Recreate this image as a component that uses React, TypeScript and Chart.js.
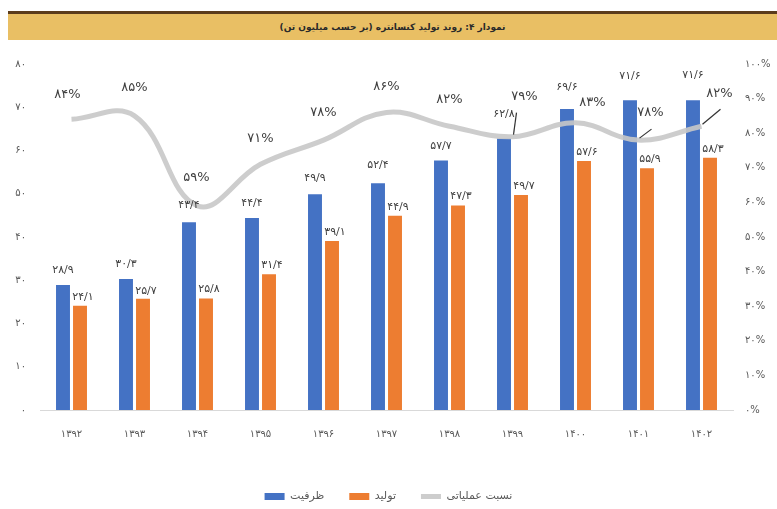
import React, { useEffect, useRef } from "react";
import { Chart, registerables } from "chart.js";

Chart.register(...registerables);

// ---- data ----
const years = ["۱۳۹۲", "۱۳۹۳", "۱۳۹۴", "۱۳۹۵", "۱۳۹۶", "۱۳۹۷", "۱۳۹۸", "۱۳۹۹", "۱۴۰۰", "۱۴۰۱", "۱۴۰۲"];
const capacity = [28.9, 30.3, 43.4, 44.4, 49.9, 52.4, 57.7, 62.8, 69.6, 71.6, 71.6];
const production = [24.1, 25.7, 25.8, 31.4, 39.1, 44.9, 47.3, 49.7, 57.6, 55.9, 58.3];
const ratio = [84, 85, 59, 71, 78, 86, 82, 79, 83, 78, 82];

const seriesNames = ["ظرفیت", "تولید", "نسبت عملیاتی"];
const titleText = "نمودار ۴: روند تولید کنسانتره (بر حسب میلیون تن)";

// ---- label placement (styling) ----
const capLabelLift = [15, 15, 17, 15, 16, 18, 14, 24, 22, 24, 25];
const prodLabelLift = [9, 8, 9, 9, 9, 9, 9, 9, 9, 9, 9];
const ratioLabelDx = [-4, 0, -1, 0, 0, 0, 0, 12, 17, 12, 18];
const ratioLabelDy = [-25, -28, -28, -26, -27, -26, -27, -40, -20, -27, -33];
const ratioLeader = [false, false, false, false, false, false, false, true, false, true, true];

const FA = "۰۱۲۳۴۵۶۷۸۹";
const fa = (s: string) => s.replace(/\d/g, (d) => FA[+d]);
const faDec = (v: number) => fa(v.toFixed(1).replace(".", "/"));

const FONT = "'DejaVu Sans', sans-serif";

const labelPlugin = {
  id: "valueLabels",
  afterDatasetsDraw(chart: any) {
    const ctx = chart.ctx as CanvasRenderingContext2D;
    ctx.save();
    ctx.fillStyle = "#404040";
    ctx.textAlign = "center";
    ctx.textBaseline = "middle";
    ctx.font = `11px ${FONT}`;
    const capMeta = chart.getDatasetMeta(0);
    capMeta.data.forEach((el: any, i: number) => {
      ctx.fillText(faDec(capacity[i]), el.x, el.y - capLabelLift[i]);
    });
    const prodMeta = chart.getDatasetMeta(1);
    prodMeta.data.forEach((el: any, i: number) => {
      ctx.fillText(faDec(production[i]), el.x + 3, el.y - prodLabelLift[i]);
    });
    const lineMeta = chart.getDatasetMeta(2);
    ctx.font = `13px ${FONT}`;
    lineMeta.data.forEach((el: any, i: number) => {
      const lx = el.x + ratioLabelDx[i];
      const ly = el.y + ratioLabelDy[i];
      ctx.fillText(fa(String(ratio[i])) + "%", lx, ly);
      if (ratioLeader[i]) {
        ctx.strokeStyle = "#333333";
        ctx.lineWidth = 1.2;
        ctx.beginPath();
        ctx.moveTo(lx - (i === 7 ? 8 : -1), ly + 16);
        ctx.lineTo(el.x + 1, el.y - 2);
        ctx.stroke();
      }
    });
    ctx.restore();
  },
};

export default function App() {
  const ref = useRef<HTMLCanvasElement | null>(null);

  useEffect(() => {
    if (!ref.current) return;
    const chart = new Chart(ref.current, {
      type: "bar",
      data: {
        labels: years,
        datasets: [
          {
            type: "bar",
            label: seriesNames[0],
            data: capacity,
            backgroundColor: "#4472C4",
            yAxisID: "y",
            categoryPercentage: 0.54,
            barPercentage: 0.82,
            pointStyle: "rect",
          },
          {
            type: "bar",
            label: seriesNames[1],
            data: production,
            backgroundColor: "#ED7D31",
            yAxisID: "y",
            categoryPercentage: 0.54,
            barPercentage: 0.82,
            pointStyle: "rect",
          },
          {
            type: "line",
            label: seriesNames[2],
            data: ratio,
            borderColor: "rgba(200,200,200,0.9)",
            backgroundColor: "rgba(200,200,200,0.9)",
            borderWidth: 5,
            pointRadius: 0,
            pointStyle: "line",
            tension: 0.4,
            yAxisID: "y1",
            order: -1,
          } as any,
        ],
      },
      options: {
        responsive: false,
        animation: false,
        layout: { padding: { top: 24, left: 0, right: 0, bottom: 0 } },
        plugins: {
          tooltip: { enabled: false },
          legend: {
            position: "bottom",
            labels: {
              sort: (a: any, b: any) => a.datasetIndex - b.datasetIndex,
              font: { family: FONT, size: 11 },
              color: "#595959",
              usePointStyle: true,
              pointStyleWidth: 20,
              boxHeight: 7,
              padding: 25,
            },
          },
        },
        scales: {
          x: {
            grid: { display: false, drawTicks: false },
            border: { display: true, color: "#d9d9d9" },
            ticks: { font: { family: FONT, size: 10 }, color: "#595959", padding: 18 },
            afterFit: (s: any) => {
              s.height = 56;
            },
          },
          y: {
            position: "left",
            min: 0,
            max: 80,
            grid: { display: false, drawTicks: false },
            border: { display: false },
            ticks: {
              stepSize: 10,
              font: { family: FONT, size: 10 },
              color: "#595959",
              padding: 14,
              callback: (v: any) => fa(String(v)),
            },
            afterFit: (s: any) => {
              s.width = 40;
            },
          },
          y1: {
            position: "right",
            min: 0,
            max: 100,
            grid: { display: false, drawTicks: false },
            border: { display: false },
            ticks: {
              stepSize: 10,
              font: { family: FONT, size: 10 },
              color: "#595959",
              padding: 12,
              callback: (v: any) => fa(String(v)) + "%",
            },
            afterFit: (s: any) => {
              s.width = 44;
            },
          },
        },
      } as any,
      plugins: [labelPlugin],
    });
    return () => chart.destroy();
  }, []);

  return (
    <div style={{ position: "absolute", left: 0, top: 0, width: 777, height: 509, background: "#fff", overflow: "hidden" }}>
      <div style={{ position: "absolute", left: 8, top: 11, right: 0, height: 3, background: "#5b3c1c" }} />
      <div
        dir="rtl"
        style={{
          position: "absolute",
          left: 8,
          top: 14,
          right: 0,
          height: 26,
          background: "#e9bf64",
          display: "flex",
          alignItems: "center",
          justifyContent: "center",
          fontFamily: FONT,
          fontWeight: "bold",
          fontSize: 9,
          color: "#2a2a2a",
        }}
      >
        {titleText}
      </div>
      <div style={{ position: "absolute", left: 0, top: 40, width: 777, height: 472 }}>
        <canvas ref={ref} width={777} height={472} style={{ display: "block" }} />
      </div>
    </div>
  );
}
